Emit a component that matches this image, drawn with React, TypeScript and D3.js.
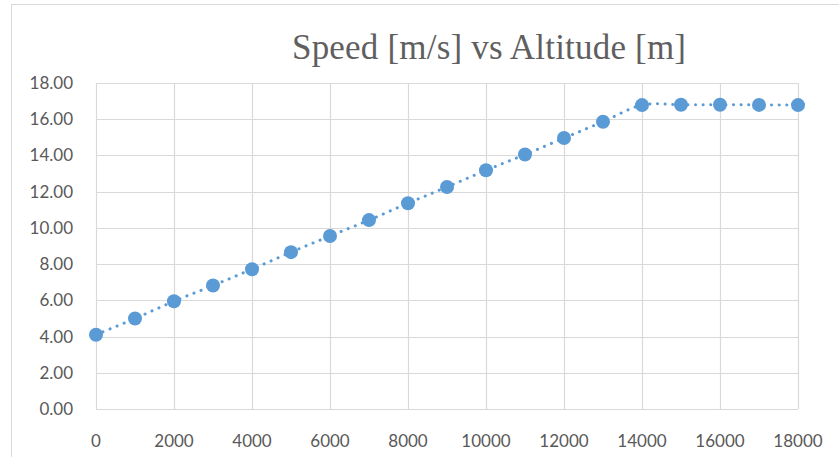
import { useRef, useEffect } from "react";
import * as d3 from "d3";

// altitude [m] and speed [m/s]
const altitudes = [
  0, 1000, 2000, 3000, 4000, 5000, 6000, 7000, 8000, 9000, 10000, 11000, 12000,
  13000, 14000, 15000, 16000, 17000, 18000,
];
const speeds = [
  4.1, 5.0, 5.95, 6.82, 7.72, 8.66, 9.55, 10.43, 11.36, 12.26, 13.18, 14.05,
  14.96, 15.86, 16.78, 16.8, 16.8, 16.79, 16.78,
];
const xTicks = [0, 2000, 4000, 6000, 8000, 10000, 12000, 14000, 16000, 18000];
const yTicks = [0, 2, 4, 6, 8, 10, 12, 14, 16, 18];
const title = "Speed [m/s] vs Altitude [m]";

const W = 839;
const H = 457;
const blue = "#5B9BD5";
const grid = "#D9D9D9";
const labelColor = "#595959";

export default function App() {
  const svgRef = useRef<SVGSVGElement | null>(null);

  useEffect(() => {
    const svg = d3.select(svgRef.current);
    svg.selectAll("*").remove();

    const x = d3.scaleLinear().domain([0, 18000]).range([96, 798]);
    const y = d3.scaleLinear().domain([0, 18]).range([409, 83]);

    // chart area outline (only left and top visible in the crop)
    svg
      .append("rect")
      .attr("x", 11.5)
      .attr("y", 4.5)
      .attr("width", W + 20)
      .attr("height", H + 20)
      .attr("fill", "#fff")
      .attr("stroke", grid)
      .attr("stroke-width", 1);

    svg
      .append("text")
      .attr("x", 489)
      .attr("y", 59)
      .attr("text-anchor", "middle")
      .attr("font-family", "'Liberation Serif', 'DejaVu Serif', serif")
      .attr("font-size", 35)
      .attr("textLength", 394)
      .attr("lengthAdjust", "spacing")
      .attr("fill", "#5f5f5f")
      .text(title);

    // gridlines
    svg
      .append("g")
      .selectAll("line.h")
      .data(yTicks)
      .join("line")
      .attr("x1", x(0))
      .attr("x2", x(18000))
      .attr("y1", (d) => Math.round(y(d)) + 0.5)
      .attr("y2", (d) => Math.round(y(d)) + 0.5)
      .attr("stroke", grid)
      .attr("stroke-width", 1.2);

    svg
      .append("g")
      .selectAll("line.v")
      .data(xTicks)
      .join("line")
      .attr("x1", (d) => Math.round(x(d)) + 0.5)
      .attr("x2", (d) => Math.round(x(d)) + 0.5)
      .attr("y1", y(0))
      .attr("y2", y(18))
      .attr("stroke", grid)
      .attr("stroke-width", 1.2);

    // tick labels
    const font = "Lato, 'Open Sans', sans-serif";
    svg
      .append("g")
      .selectAll("text")
      .data(yTicks)
      .join("text")
      .attr("x", 73)
      .attr("y", (d) => y(d))
      .attr("dy", "0.35em")
      .attr("text-anchor", "end")
      .attr("font-family", font)
      .attr("font-size", 17)
      .attr("fill", labelColor)
      .text((d) => d.toFixed(2));

    svg
      .append("g")
      .selectAll("text")
      .data(xTicks)
      .join("text")
      .attr("x", (d) => x(d))
      .attr("y", 441)
      .attr("dy", "0.35em")
      .attr("text-anchor", "middle")
      .attr("font-family", font)
      .attr("font-size", 17)
      .attr("fill", labelColor)
      .text((d) => String(d));

    const pts: [number, number][] = altitudes.map((a, i) => [a, speeds[i]]);

    const line = d3
      .line<[number, number]>()
      .x((d) => x(d[0]))
      .y((d) => y(d[1]))
      .curve(d3.curveCatmullRom.alpha(0.5));

    svg
      .append("path")
      .datum(pts)
      .attr("d", line)
      .attr("fill", "none")
      .attr("stroke", blue)
      .attr("stroke-width", 3)
      .attr("stroke-linecap", "round")
      .attr("stroke-dasharray", "0.1 7.5");

    svg
      .append("g")
      .selectAll("circle")
      .data(pts)
      .join("circle")
      .attr("cx", (d) => x(d[0]))
      .attr("cy", (d) => y(d[1]))
      .attr("r", 7)
      .attr("fill", blue);
  }, []);

  return (
    <svg
      ref={svgRef}
      width={W}
      height={H}
      style={{ position: "fixed", left: 0, top: 0, display: "block", background: "#fff" }}
    />
  );
}
